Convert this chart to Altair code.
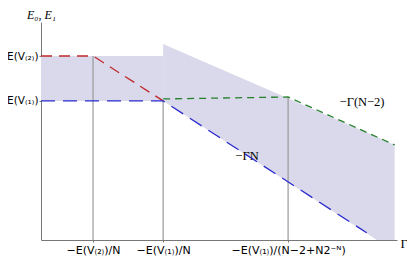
import altair as alt
import pandas as pd

# Readings from the picture (x: Gamma axis units, y: energy units)
red_x = [0.0, 1.47, 3.45]
red_y = [8.44, 8.44, 6.38]
blue_x = [0.0, 3.45, 9.2]
blue_y = [6.38, 6.38, 0.33]
green_x = [3.45, 6.98, 9.99]
green_y = [6.47, 6.56, 4.36]

shade_seg = ["a", "a", "b", "b", "b"]
shade_x = [0.0, 3.45, 3.45, 9.49, 9.99]
shade_top = [8.44, 8.44, 8.99, 4.72, 4.36]
shade_bot = [6.38, 6.38, 6.38, 0.0, 0.0]

vline_x = [1.47, 3.45, 6.98]
vline_top = [8.44, 6.38, 6.56]

xtick_vals = [1.47, 3.45, 6.98]
ytick_vals = [6.38, 8.44]

lab_text = ["\u2212\u0393N", "\u2212\u0393(N\u22122)"]
lab_x = [5.82, 9.07]
lab_y = [3.85, 6.33]

W, H = 356, 218
xs = alt.Scale(domain=[0, W / 35.4], nice=False, zero=False)
ys = alt.Scale(domain=[0, H / 21.8], nice=False, zero=False)

shade = pd.DataFrame({"seg": shade_seg, "x": shade_x, "top": shade_top, "bot": shade_bot})
area = alt.Chart(shade).mark_area(color="#d9d9eb", opacity=1).encode(
    x=alt.X("x:Q", scale=xs, axis=alt.Axis(
        values=xtick_vals, grid=False, title="\u0393",
        labelExpr="datum.value < 2 ? '\u2212E(V\u208d\u2082\u208e)/N' : datum.value < 5 ? '\u2212E(V\u208d\u2081\u208e)/N' : '\u2212E(V\u208d\u2081\u208e)/(N\u22122+N2\u207b\u1d3a)'",
        labelFont="DejaVu Sans", labelFontSize=11, labelColor="#000", labelPadding=2,
        domainColor="#777", tickColor="#777", tickSize=2,
        titleFont="Liberation Serif", titleFontSize=13, titleFontWeight="normal",
        titleX=W + 3, titleY=3, titleAlign="left", titleBaseline="middle")),
    y=alt.Y("top:Q", scale=ys, stack=None, axis=alt.Axis(
        values=ytick_vals, grid=False, title="E\u2080, E\u2081",
        labelExpr="datum.value < 7 ? 'E(V\u208d\u2081\u208e)' : 'E(V\u208d\u2082\u208e)'",
        labelFont="DejaVu Sans", labelFontSize=10.5, labelColor="#000", labelPadding=1,
        domainColor="#777", tickColor="#777", tickSize=2,
        titleFont="Liberation Serif", titleFontSize=12, titleFontStyle="italic",
        titleFontWeight="normal", titleAngle=0, titleX=0, titleY=-1,
        titleAlign="center", titleBaseline="bottom")),
    y2="bot:Q",
    detail="seg:N",
)

vl = pd.DataFrame({"x": vline_x, "top": vline_top})
vrules = alt.Chart(vl).mark_rule(color="#999", strokeWidth=1.2).encode(
    x=alt.X("x:Q", scale=xs), y=alt.Y("top:Q", scale=ys), y2=alt.datum(0)
)

def dline(xv, yv, color, dash):
    df = pd.DataFrame({"x": xv, "y": yv, "o": list(range(len(xv)))})
    return alt.Chart(df).mark_line(color=color, strokeWidth=1.3, strokeDash=dash).encode(
        x=alt.X("x:Q", scale=xs), y=alt.Y("y:Q", scale=ys), order="o:Q"
    )

red = dline(red_x, red_y, "#c0282a", [11, 7])
blue = dline(blue_x, blue_y, "#2a2ad0", [14, 8])
green = dline(green_x, green_y, "#24802a", [7, 5])

labs = pd.DataFrame({"t": lab_text, "x": lab_x, "y": lab_y})
text = alt.Chart(labs).mark_text(font="Liberation Serif", fontSize=12.5, color="#000").encode(
    x=alt.X("x:Q", scale=xs), y=alt.Y("y:Q", scale=ys), text="t:N"
)

chart = alt.layer(area, vrules, red, blue, green, text).properties(
    width=W, height=H,
    autosize=alt.AutoSizeParams(type="none"),
    padding={"left": 33, "top": 14, "right": 10, "bottom": 17},
).configure_view(stroke=None)

chart.save("out.html", embed_options={"renderer": "svg", "actions": False})
